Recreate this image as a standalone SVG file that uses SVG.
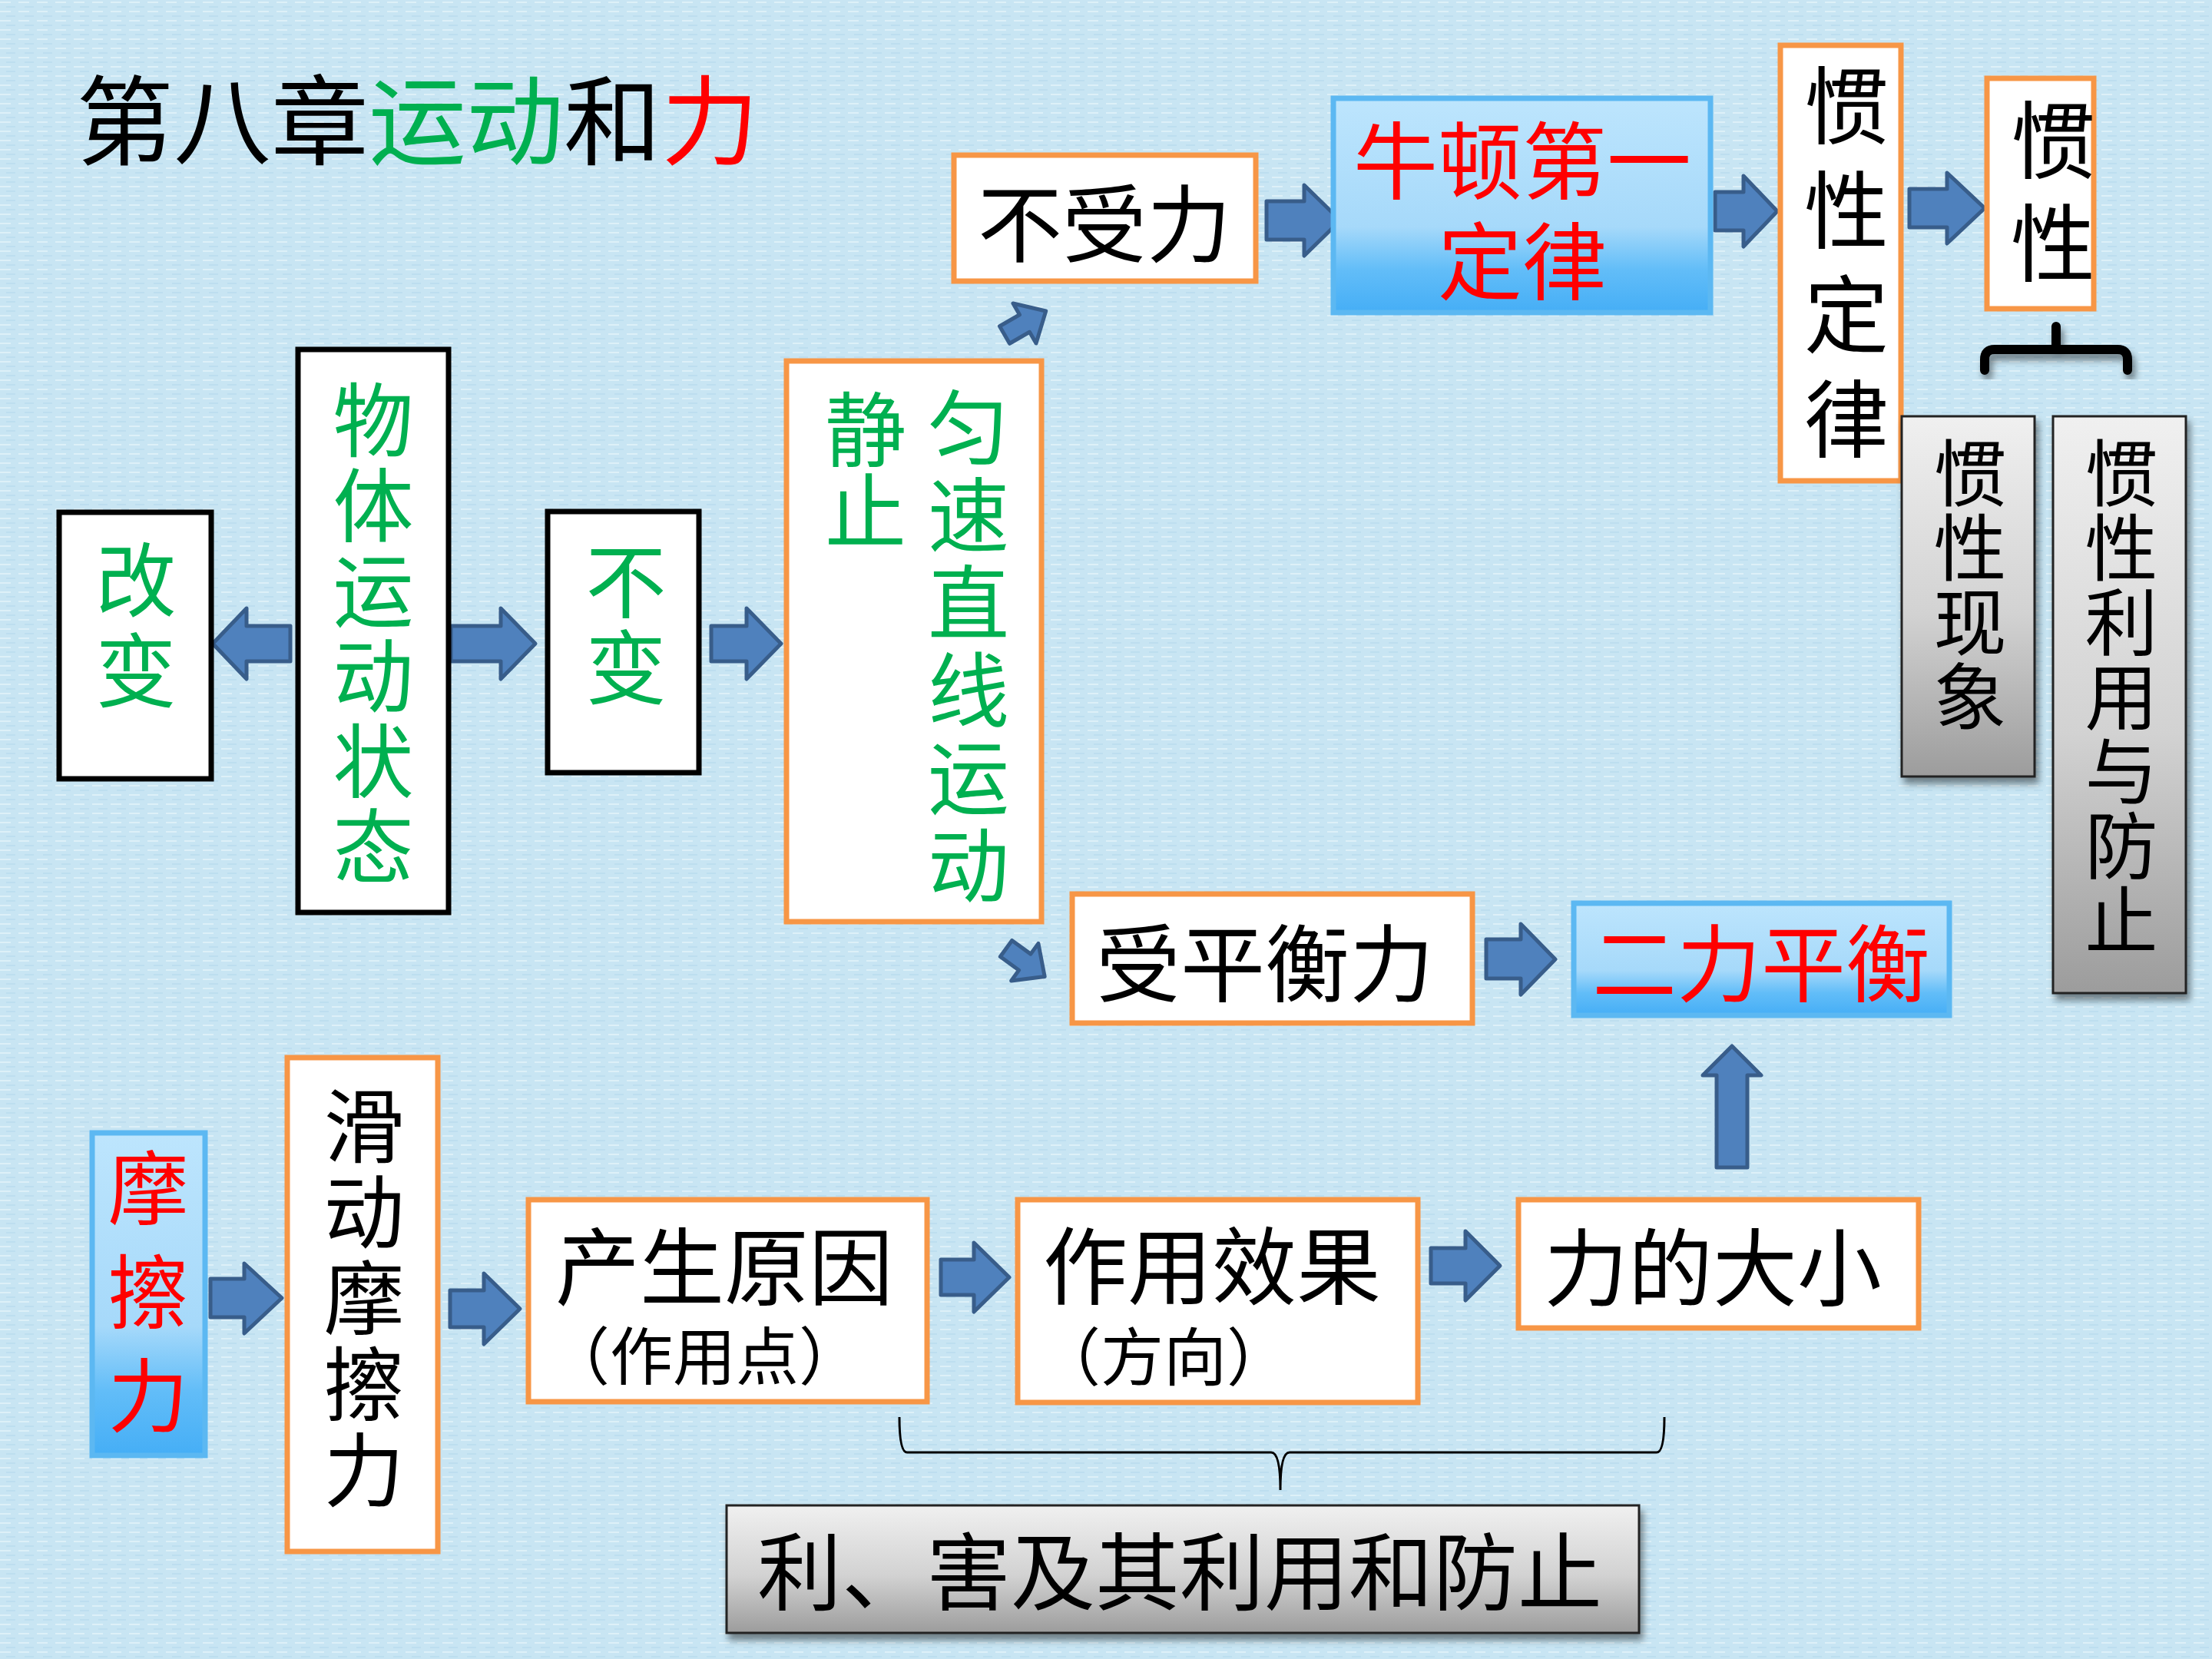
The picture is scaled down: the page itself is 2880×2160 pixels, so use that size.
<svg xmlns="http://www.w3.org/2000/svg" width="2880" height="2160" viewBox="0 0 2880 2160">
<defs>
<style>
text{font-family:"Noto Sans CJK SC","Noto Sans",sans-serif;dominant-baseline:central;text-anchor:middle}
text.v{writing-mode:vertical-rl;text-orientation:upright;text-anchor:start}
.bk{fill:#000}.gr{fill:#00b050}.rd{fill:#ff0000}
.wo{fill:#fff;stroke:#f79646;stroke-width:7}
.wb{fill:#fff;stroke:#000;stroke-width:7}
.bl{fill:url(#blueG);stroke:#5cb8f2;stroke-width:7}
.gy{fill:url(#grayG);stroke:#222;stroke-width:3;filter:url(#sh)}
.arr{fill:#4f81bd;stroke:#385d8a;stroke-width:5;stroke-linejoin:round}
</style>
<linearGradient id="blueG" x1="0" y1="0" x2="0" y2="1">
<stop offset="0" stop-color="#bde5fd"/>
<stop offset="0.6" stop-color="#a6d9fa"/>
<stop offset="0.8" stop-color="#62bdf8"/>
<stop offset="1" stop-color="#45aef6"/>
</linearGradient>
<linearGradient id="grayG" x1="0" y1="0" x2="0" y2="1">
<stop offset="0" stop-color="#f0f0f0"/>
<stop offset="0.55" stop-color="#d2d2d2"/>
<stop offset="1" stop-color="#9c9c9c"/>
</linearGradient>
<filter id="sh" x="-20%" y="-20%" width="140%" height="140%">
<feDropShadow dx="4" dy="8" stdDeviation="5" flood-color="#000" flood-opacity="0.45"/>
</filter>
<pattern id="tex" width="24" height="12" patternUnits="userSpaceOnUse">
<rect width="24" height="12" fill="#c8e5f3"/>
<rect x="0" y="2" width="14" height="2" fill="#e6f5fc" opacity="0.7"/>
<rect x="8" y="8" width="12" height="2" fill="#b5d9ec" opacity="0.6"/>
</pattern>
</defs>
<rect width="2880" height="2160" fill="url(#tex)"/>

<g id="title">
<text x="99" y="150" style="text-anchor:start;font-size:127px"><tspan class="bk">第八章</tspan><tspan class="gr">运动</tspan><tspan class="bk">和</tspan><tspan class="rd">力</tspan></text>
</g>

<g id="connectors">
<path class="arr" d="M378,815 H321 V792 L277,838 L321,884 V861 H378 Z"/>
<path class="arr" d="M587,815 H652 V792 L697,838 L652,884 V861 H587 Z"/>
<path class="arr" d="M926,815 H972 V792 L1017,838 L972,884 V861 H926 Z"/>
<path class="arr" d="M0,-13 H30 V-30 L62,0 L30,30 V13 H0 Z" transform="translate(1308,436) rotate(-30)"/>
<path class="arr" d="M0,-13 H30 V-30 L62,0 L30,30 V13 H0 Z" transform="translate(1310,1235) rotate(36)"/>
<path class="arr" d="M1649,262 H1698 V241 L1745,287 L1698,333 V312 H1649 Z"/>
<path class="arr" d="M2233,250 H2270 V229 L2314,275 L2270,321 V300 H2233 Z"/>
<path class="arr" d="M2486,246 H2535 V225 L2584,271 L2535,317 V296 H2486 Z"/>
<path class="arr" d="M1935,1223 H1980 V1203 L2025,1249 L1980,1295 V1274 H1935 Z"/>
<path class="arr" d="M2235,1520 V1400 H2217 L2255,1362 L2293,1400 H2275 V1520 Z"/>
<path class="arr" d="M274,1665 H318 V1645 L367,1690 L318,1736 V1715 H274 Z"/>
<path class="arr" d="M586,1680 H630 V1658 L677,1704 L630,1750 V1728 H586 Z"/>
<path class="arr" d="M1225,1640 H1268 V1618 L1314,1663 L1268,1708 V1686 H1225 Z"/>
<path class="arr" d="M1863,1625 H1908 V1603 L1953,1648 L1908,1693 V1671 H1863 Z"/>
<path d="M2584,482 V468 Q2584,455 2597,455 H2757 Q2770,455 2770,468 V482 M2677,455 V425" fill="none" stroke="#000" stroke-width="12" stroke-linecap="round" filter="url(#sh)"/>
<path d="M1171,1845 Q1171,1891 1181,1891 H1655 Q1667,1891 1667,1940 Q1667,1891 1679,1891 H2157 Q2167,1891 2167,1845" fill="none" stroke="#000" stroke-width="3"/>
</g>

<g id="n-gaibian">
<rect class="wb" x="77" y="667" width="198" height="347"/>
<text class="v gr" x="177" y="702" style="font-size:105px;letter-spacing:13px">改变</text>
</g>

<g id="n-wuti">
<rect class="wb" x="388" y="455" width="196" height="733"/>
<text class="v gr" x="486" y="494" style="font-size:105px;letter-spacing:6px">物体运动状态</text>
</g>

<g id="n-bubian">
<rect class="wb" x="713" y="666" width="197" height="340"/>
<text class="v gr" x="815" y="704" style="font-size:105px;letter-spacing:7px">不变</text>
</g>

<g id="n-yunsu">
<rect class="wo" x="1024" y="470" width="332" height="730"/>
<text class="v gr" x="1127" y="506" style="font-size:106px;letter-spacing:0px">静止</text>
<text class="v gr" x="1261" y="503" style="font-size:106px;letter-spacing:8px">匀速直线运动</text>
</g>

<g id="n-bushouli">
<rect class="wo" x="1242" y="202" width="393" height="164"/>
<text class="bk" x="1438" y="285" style="font-size:110px">不受力</text>
</g>

<g id="n-niudun">
<rect class="bl" x="1736" y="128" width="491" height="279"/>
<text class="rd" style="font-size:110px"><tspan x="1982" y="203">牛顿第一</tspan><tspan x="1982" y="334">定律</tspan></text>
</g>

<g id="n-guanxingdinglv">
<rect class="wo" x="2318" y="59" width="157" height="567"/>
<text class="v bk" x="2404" y="82" style="font-size:110px;letter-spacing:26px">惯性定律</text>
</g>

<g id="n-guanxing">
<rect class="wo" x="2587" y="102" width="139" height="300"/>
<text class="v bk" x="2673" y="127" style="font-size:110px;letter-spacing:24px">惯性</text>
</g>

<g id="n-xianxiang">
<rect class="gy" x="2476" y="542" width="173" height="469"/>
<text class="v bk" x="2565" y="568" style="font-size:95px;letter-spacing:2px">惯性现象</text>
</g>

<g id="n-liyong">
<rect class="gy" x="2673" y="542" width="173" height="751"/>
<text class="v bk" x="2762" y="568" style="font-size:95px;letter-spacing:2px">惯性利用与防止</text>
</g>

<g id="n-shoupingheng">
<rect class="wo" x="1396" y="1164" width="521" height="168"/>
<text class="bk" x="1647" y="1248" style="font-size:110px">受平衡力</text>
</g>

<g id="n-erli">
<rect class="bl" x="2049" y="1176" width="489" height="146"/>
<text class="rd" x="2293" y="1248" style="font-size:110px">二力平衡</text>
</g>

<g id="n-moca">
<rect class="bl" x="120" y="1475" width="147" height="420"/>
<text class="v rd" x="193" y="1494" style="font-size:105px;letter-spacing:30px">摩擦力</text>
</g>

<g id="n-huadong">
<rect class="wo" x="374" y="1377" width="196" height="643"/>
<text class="v bk" x="474" y="1413" style="font-size:105px;letter-spacing:7px">滑动摩擦力</text>
</g>

<g id="n-chansheng">
<rect class="wo" x="688" y="1562" width="519" height="263"/>
<text class="bk" style="font-size:110px"><tspan x="943" y="1643">产生原因</tspan><tspan x="917" y="1760" style="font-size:82px">（作用点）</tspan></text>
</g>

<g id="n-zuoyong">
<rect class="wo" x="1325" y="1562" width="521" height="264"/>
<text class="bk" style="font-size:110px"><tspan x="1578" y="1642">作用效果</tspan><tspan x="1515" y="1761" style="font-size:82px">（方向）</tspan></text>
</g>

<g id="n-daxiao">
<rect class="wo" x="1977" y="1562" width="521" height="167"/>
<text class="bk" x="2230" y="1644" style="font-size:110px">力的大小</text>
</g>

<g id="n-lihai">
<rect class="gy" x="946" y="1960" width="1188" height="166"/>
<text class="bk" x="1536" y="2040" style="font-size:110px">利、害及其利用和防止</text>
</g>
</svg>
